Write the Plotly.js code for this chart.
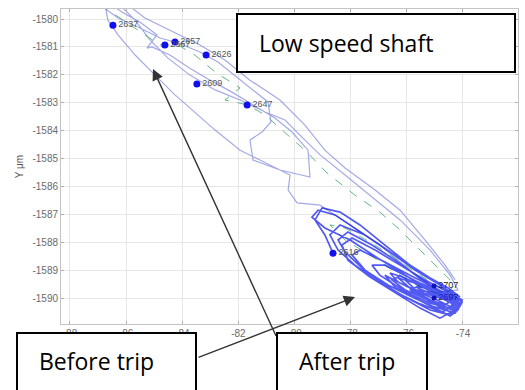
<!DOCTYPE html>
<html>
<head>
<meta charset="utf-8">
<script src="https://cdn.plot.ly/plotly-3.0.1.min.js"></script>
<style>html,body{margin:0;padding:0;background:#fff;}#chart{width:525px;height:390px;}</style>
</head>
<body>
<div id="chart"></div>
<script>
// Orbit before the trip (upper-left part of the band), X and Y in µm
const beforeX = [-86.93,-86.29,-85.51,-84.79,-84.15,-83.37,-82.73,-82.01,-81.37,-80.95,-80.84,-81.16,-81.59,-81.48,-80.52,-79.45,-79.52,-80.09,-80.70,-81.41,-82.23,-83.01,-83.73,-84.44,-85.08,-85.26,-84.90,-85.51,-86.15,-86.50,
  -86.22,-85.68,-85.15,-84.51,-83.73,-82.83,-81.94,-81.05,-80.34,-79.81,-79.09,-78.20,-77.31,-76.24,-75.17,-74.46,-74.18,-74.82,-75.89,-76.96,-78.02,-79.09,-79.91,-80.23,-80.16,-80.87,-81.94,-82.83,-83.55,-84.26,-84.97,-85.68,-86.29,-86.65,-86.75,
  -85.93,-85.33,-84.44,-83.37,-82.48,-81.59,-80.52,-79.63,-78.92,-78.20,-77.13,-76.24,-75.35,-74.64,-74.28];
const beforeY = [-1579.50,-1579.96,-1580.32,-1580.68,-1580.86,-1581.18,-1581.54,-1582.11,-1582.62,-1582.97,-1583.69,-1584.05,-1584.34,-1585.05,-1585.41,-1585.66,-1584.70,-1584.05,-1583.55,-1583.12,-1582.62,-1582.19,-1581.76,-1581.29,-1581.00,-1581.04,-1580.57,-1580.11,-1579.75,-1579.50,
  -1579.50,-1580.04,-1580.75,-1581.40,-1582.01,-1582.54,-1582.90,-1583.33,-1583.62,-1584.16,-1584.87,-1585.59,-1586.31,-1587.20,-1588.28,-1589.18,-1589.71,-1589.78,-1589.00,-1588.10,-1587.38,-1586.67,-1586.59,-1586.13,-1585.59,-1585.23,-1584.70,-1583.98,-1583.33,-1582.72,-1582.01,-1581.29,-1580.57,-1580.04,-1579.50,
  -1579.50,-1579.96,-1580.39,-1580.93,-1581.47,-1582.19,-1582.90,-1583.80,-1584.70,-1585.34,-1586.13,-1586.85,-1587.92,-1588.82,-1589.35];

// Orbit after the trip (dense cluster, lower right)
const afterX = [-78.63,-78.92,-79.27,-79.02,-78.38,-77.67,-76.78,-75.89,-74.99,-74.28,-74.11,-74.46,-75.17,-76.06,-76.96,-77.85,-78.45,-78.74,-78.38,-77.49,-76.60,-75.71,-74.82,-74.18,-74.28,-74.82,-75.53,-76.42,-77.31,-78.10,
  -78.31,-77.95,-77.13,-76.24,-75.35,-74.53,-74.03,-74.39,-75.10,-75.89,-76.67,-77.49,-77.95,-77.67,-76.78,-75.89,-74.99,-74.28,-74.46,-75.17,-75.81,-76.42,-76.96,-77.24,-76.78,-76.06,-75.24,-74.57,-74.18,-74.60,
  -75.24,-76.06,-76.53,-76.24,-75.53,-74.82,-74.39,-74.64,-75.35,-75.89,-75.60,-74.96,-74.46,-74.11,-74.53,-75.17,-76.06,-76.96,-77.85,-78.56,-79.16,-79.38,-78.92,-78.02,-77.03,-76.17,-75.24,-74.64,-74.28,-74.75,
  -75.53,-76.24,-76.88,-77.60,-78.20,-78.45,-78.10,-77.24,-76.31,-75.46,-74.75,-74.25,-74.35,-74.92,-75.60,-76.31,-76.60,-76.06,-75.24,-74.60,-74.18,-74.53,-75.10,-75.67,-75.35,-74.75,-74.28,
  -74.28,-74.82,-75.53,-76.24,-76.78,-76.42,-75.71,-74.99,-74.46,-74.18,-74.03,-74.46,-75.10,-75.81,-76.31,-75.89,-75.24,-74.64,-74.28,-74.11,-74.53,-75.17,-75.71,-75.17,-74.57,-74.21,-74.39,-74.89,-75.53,-76.06,-75.53,-74.89,-74.39,-74.07];
const afterY = [-1588.39,-1587.74,-1587.20,-1586.77,-1586.92,-1587.38,-1588.10,-1588.82,-1589.43,-1589.89,-1590.25,-1590.61,-1590.43,-1589.96,-1589.43,-1588.82,-1588.28,-1587.74,-1587.38,-1587.74,-1588.35,-1589.00,-1589.53,-1590.00,-1590.43,-1590.72,-1590.36,-1589.82,-1589.25,-1588.64,
  -1588.10,-1587.85,-1588.28,-1588.82,-1589.35,-1589.78,-1590.07,-1590.50,-1590.29,-1589.93,-1589.53,-1589.00,-1588.46,-1588.28,-1588.71,-1589.18,-1589.64,-1590.00,-1590.36,-1590.18,-1589.89,-1589.53,-1589.18,-1588.82,-1588.82,-1589.18,-1589.61,-1589.89,-1590.14,-1590.43,
  -1590.07,-1589.71,-1589.35,-1589.21,-1589.53,-1589.82,-1590.07,-1590.25,-1590.00,-1589.71,-1589.57,-1589.78,-1590.00,-1589.96,-1589.64,-1589.28,-1588.71,-1588.10,-1587.49,-1587.02,-1586.85,-1587.10,-1587.49,-1587.92,-1588.57,-1589.10,-1589.71,-1590.07,-1590.25,-1590.50,
  -1590.21,-1589.86,-1589.46,-1588.92,-1588.35,-1587.92,-1587.63,-1588.10,-1588.71,-1589.35,-1589.78,-1590.07,-1590.36,-1590.07,-1589.78,-1589.43,-1589.10,-1589.28,-1589.71,-1590.00,-1590.21,-1590.07,-1589.86,-1589.61,-1589.61,-1589.89,-1590.07,
  -1590.14,-1590.00,-1589.78,-1589.46,-1589.18,-1589.61,-1590.00,-1590.36,-1590.64,-1590.43,-1590.14,-1589.86,-1589.64,-1589.43,-1589.28,-1589.64,-1590.07,-1590.43,-1590.54,-1590.29,-1590.00,-1589.78,-1589.71,-1590.14,-1590.36,-1590.32,-1590.00,-1589.71,-1589.46,-1589.35,-1589.86,-1590.21,-1590.43,-1590.18];

// Mean orbit (green dashed)
const meanX = [-86.93,-86.22,-85.33,-84.79,-84.15,-83.55,-82.83,-81.94,-82.48,-81.66,-81.05,-80.45,-79.63,-78.84,-77.85,-76.96,-76.24,-75.53,-74.82,-74.28,-74.64,-75.35,-76.24,-77.31,-78.20,-78.74,-78.20,-77.13,-76.06,-74.99,-74.18];
const meanY = [-1579.50,-1579.96,-1580.57,-1580.93,-1580.93,-1581.29,-1581.90,-1582.47,-1582.90,-1583.08,-1583.44,-1583.98,-1584.70,-1585.52,-1586.31,-1586.92,-1587.56,-1588.28,-1589.00,-1589.53,-1589.89,-1589.71,-1589.18,-1588.46,-1587.92,-1587.38,-1587.49,-1588.10,-1588.82,-1589.53,-1590.00];

// Labelled samples
const sampleX = [-86.47,-84.62,-84.26,-83.15,-83.48,-81.69,-78.63];
const sampleY = [-1580.22,-1580.93,-1580.82,-1581.29,-1582.33,-1583.08,-1588.39];
const sampleLabels = ['2637','2667','2657','2626','2609','2647','2616'];
const hiddenX = [-75.03,-75.03];
const hiddenY = [-1589.57,-1590.00];
const hiddenLabels = ['2707','2697'];

const xTicks = [-88,-86,-84,-82,-80,-78,-76,-74];
const yTicks = [-1590,-1589,-1588,-1587,-1586,-1585,-1584,-1583,-1582,-1581,-1580];

const data = [
  {x: beforeX, y: beforeY, mode: 'lines', line: {color: 'rgba(115,125,215,0.65)', width: 1.2}, hoverinfo: 'skip'},
  {x: meanX, y: meanY, mode: 'lines', line: {color: 'rgba(70,170,110,0.85)', width: 1, dash: 'dash'}, hoverinfo: 'skip'},
  {x: hiddenX, y: hiddenY, mode: 'markers+text', text: hiddenLabels, textposition: 'middle right',
   textfont: {family: 'Arial', size: 9, color: '#222'}, marker: {color: '#101080', size: 5}},
  {x: afterX, y: afterY, mode: 'lines', line: {color: 'rgba(10,20,235,0.7)', width: 1.7}, hoverinfo: 'skip'},
  {x: sampleX, y: sampleY, mode: 'markers+text', text: sampleLabels, textposition: 'middle right',
   textfont: {family: 'Arial', size: 9, color: '#555'}, marker: {color: '#1010ee', size: 7}}
];

const axisCommon = {
  showgrid: true, gridcolor: '#e6e6e6', gridwidth: 1, zeroline: false,
  showline: true, linecolor: '#c4c4c4', linewidth: 1, mirror: 'ticks',
  ticks: 'inside', ticklen: 3, tickcolor: '#b0b0b0',
  tickfont: {family: 'Arial', size: 10, color: '#6a6a6a'}
};

const boxFont = {family: 'Open Sans', size: 23, color: '#000'};
const layout = {
  width: 525, height: 390,
  margin: {l: 61, r: 7, t: 9, b: 66},
  paper_bgcolor: '#fff', plot_bgcolor: '#fff',
  showlegend: false,
  xaxis: Object.assign({}, axisCommon, {
    range: [-88.32, -72.04], tickvals: xTicks, ticktext: xTicks.map(String),
    title: {text: 'X μm', font: {family: 'Arial', size: 10, color: '#555'}, standoff: 6}
  }),
  yaxis: Object.assign({}, axisCommon, {
    range: [-1590.93, -1579.64], tickvals: yTicks, ticktext: yTicks.map(String),
    title: {text: 'Y μm', font: {family: 'Arial', size: 10, color: '#555'}, standoff: 6}
  }),
  annotations: [
    {xref: 'paper', yref: 'paper', x: 0.6433, y: 0.0857, ax: -158, ay: 61, text: ' ', font: {size: 1},
     showarrow: true, arrowhead: 2, arrowsize: 1.6, arrowwidth: 1.4, arrowcolor: '#333', standoff: 0},
    {xref: 'paper', yref: 'paper', x: 0.2013, y: 0.8095, ax: 124, ay: 269, text: ' ', font: {size: 1},
     showarrow: true, arrowhead: 2, arrowsize: 1.6, arrowwidth: 1.4, arrowcolor: '#333', standoff: 0},
    {xref: 'paper', yref: 'paper', x: 0.3829, y: 0.9873, xanchor: 'left', yanchor: 'top', text: ' ',
     showarrow: false, width: 276, height: 56, bgcolor: '#fff', bordercolor: '#000', borderwidth: 2, borderpad: 0},
    {xref: 'paper', yref: 'paper', x: -0.0985, y: -0.0254, xanchor: 'left', yanchor: 'top', text: ' ',
     showarrow: false, width: 177, height: 80, bgcolor: '#fff', bordercolor: '#000', borderwidth: 2, borderpad: 0},
    {xref: 'paper', yref: 'paper', x: 0.4705, y: -0.0254, xanchor: 'left', yanchor: 'top', text: ' ',
     showarrow: false, width: 148, height: 80, bgcolor: '#fff', bordercolor: '#000', borderwidth: 2, borderpad: 0},
    {xref: 'paper', yref: 'paper', x: 0.6236, y: 0.8921, xanchor: 'center', yanchor: 'middle',
     text: 'Low speed shaft', showarrow: false, font: boxFont},
    {xref: 'paper', yref: 'paper', x: 0.0766, y: -0.1175, xanchor: 'center', yanchor: 'middle',
     text: 'Before trip', showarrow: false, font: boxFont},
    {xref: 'paper', yref: 'paper', x: 0.6258, y: -0.1175, xanchor: 'center', yanchor: 'middle',
     text: 'After trip', showarrow: false, font: boxFont}
  ]
};

Plotly.newPlot('chart', data, layout, {displayModeBar: false, staticPlot: true});
</script>
</body>
</html>
